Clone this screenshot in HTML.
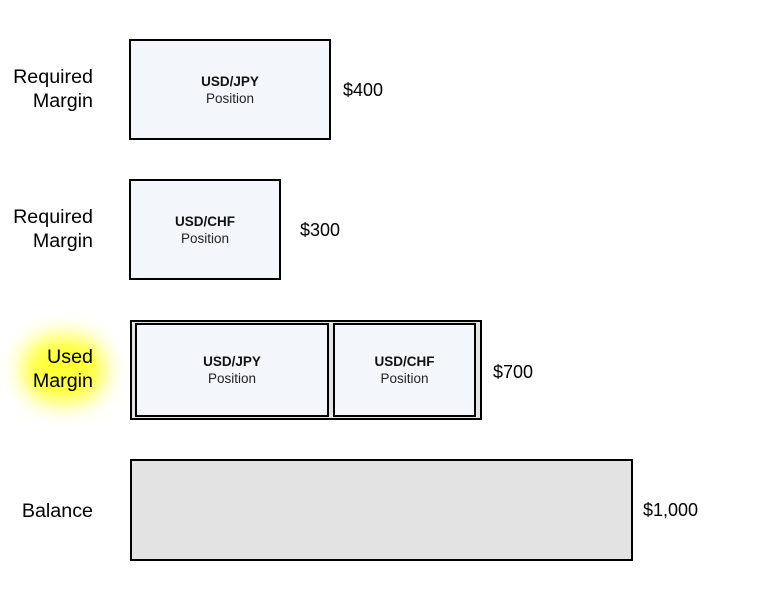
<!DOCTYPE html>
<html>
<head>
<meta charset="utf-8">
<style>
  html,body{margin:0;padding:0;background:#fff;}
  body{width:760px;height:600px;position:relative;overflow:hidden;font-family:"Liberation Sans",Arial,sans-serif;color:#000;}
  .lbl{position:absolute;right:667px;text-align:right;font-size:19.7px;line-height:24px;white-space:nowrap;}
  .val{position:absolute;font-size:18px;line-height:24px;white-space:nowrap;}
  .box{position:absolute;box-sizing:border-box;border:2px solid #000;background:#f3f7fc;display:flex;flex-direction:column;align-items:center;justify-content:center;}
  .box .t1{font-weight:bold;font-size:13.5px;line-height:17px;color:#111;}
  .box .t2{font-size:13.5px;line-height:17px;color:#222;}
  .glow{position:absolute;left:22px;top:336px;width:84px;height:68px;background:#ffff30;border-radius:34px;filter:blur(11px);opacity:0.95;}
</style>
</head>
<body>

<div class="lbl" style="top:65px;">Required<br>Margin</div>
<div class="box" style="left:129px;top:39px;width:202px;height:101px;">
  <div class="t1">USD/JPY</div><div class="t2">Position</div>
</div>
<div class="val" style="left:343px;top:78px;">$400</div>

<div class="lbl" style="top:205px;">Required<br>Margin</div>
<div class="box" style="left:129px;top:179px;width:152px;height:101px;">
  <div class="t1">USD/CHF</div><div class="t2">Position</div>
</div>
<div class="val" style="left:300px;top:218px;">$300</div>

<div class="glow"></div>
<div class="lbl" style="top:345px;text-shadow:0 0 4px #ffff40,0 0 8px #ffff40;">Used<br>Margin</div>
<div style="position:absolute;left:130px;top:320px;width:352px;height:100px;box-sizing:border-box;border:2px solid #000;background:#e4e4e4;"></div>
<div class="box" style="left:135px;top:323px;width:194px;height:94px;">
  <div class="t1">USD/JPY</div><div class="t2">Position</div>
</div>
<div class="box" style="left:333px;top:323px;width:143px;height:94px;">
  <div class="t1">USD/CHF</div><div class="t2">Position</div>
</div>
<div class="val" style="left:493px;top:360px;">$700</div>

<div class="lbl" style="top:499px;">Balance</div>
<div style="position:absolute;left:130px;top:459px;width:503px;height:102px;box-sizing:border-box;border:2px solid #000;background:#e3e3e3;"></div>
<div class="val" style="left:643px;top:498px;">$1,000</div>

</body>
</html>
